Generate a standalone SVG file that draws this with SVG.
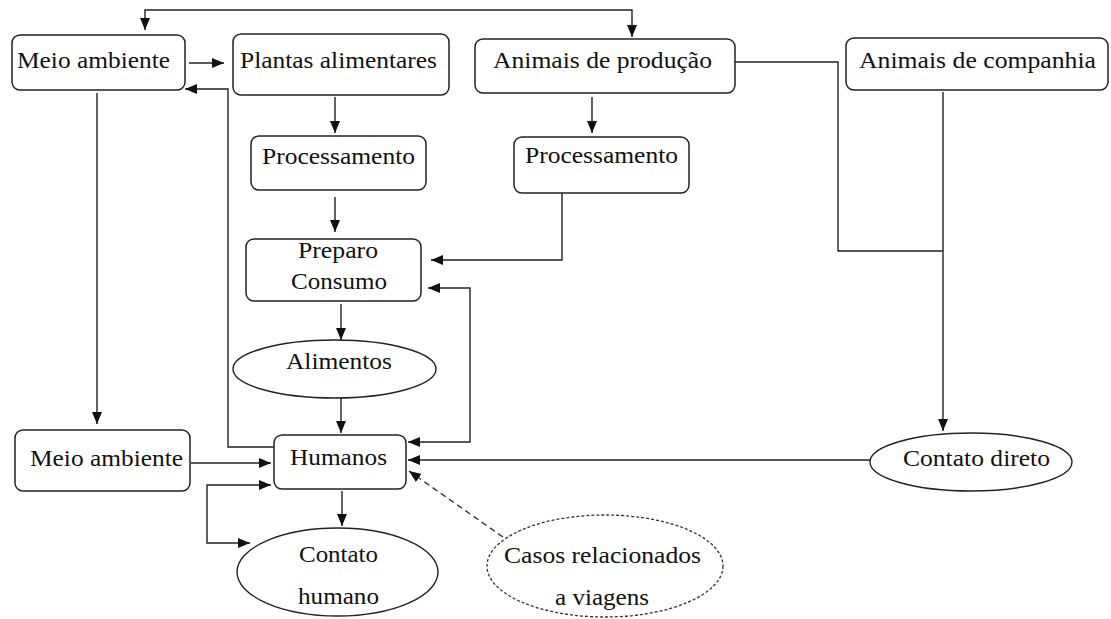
<svg xmlns="http://www.w3.org/2000/svg" width="1111" height="619" viewBox="0 0 1111 619">
<defs>
<style>
.box{fill:#fff;stroke:#222;stroke-width:1.5}
.ell{fill:#fff;stroke:#222;stroke-width:1.4}
.dash{fill:#fff;stroke:#333;stroke-width:1.3;stroke-dasharray:3 2}
.t{font-family:"Times New Roman",Tinos,"Liberation Serif","DejaVu Serif","Noto Serif",Times,serif;font-size:23px;fill:#111}
.c{fill:none;stroke:#222;stroke-width:1.4}
.cd{fill:none;stroke:#333;stroke-width:1.4;stroke-dasharray:6 4}
</style>
<marker id="ah" viewBox="0 0 12 10" refX="12" refY="5" markerWidth="12" markerHeight="10" markerUnits="userSpaceOnUse" orient="auto-start-reverse">
<path d="M0,0 L12,5 L0,10 Z" fill="#111"/>
</marker>
</defs>
<rect width="1111" height="619" fill="#fff"/>
<g id="connectors">
<path class="c" d="M145,30 V10 H632 V37" marker-start="url(#ah)" marker-end="url(#ah)"/>
<path class="c" d="M189,63 H224" marker-end="url(#ah)"/>
<path class="c" d="M274,447 H228 V89 H185" marker-end="url(#ah)"/>
<path class="c" d="M97,93 V424" marker-end="url(#ah)"/>
<path class="c" d="M335,97 V133" marker-end="url(#ah)"/>
<path class="c" d="M335,197 V232" marker-end="url(#ah)"/>
<path class="c" d="M592,97 V133" marker-end="url(#ah)"/>
<path class="c" d="M562,193 V260 H431" marker-end="url(#ah)"/>
<path class="c" d="M428,288 H470 V442 H408" marker-start="url(#ah)" marker-end="url(#ah)"/>
<path class="c" d="M341,304 V340" marker-end="url(#ah)"/>
<path class="c" d="M341,398 V433" marker-end="url(#ah)"/>
<path class="c" d="M191,463 H271" marker-end="url(#ah)"/>
<path class="c" d="M271,485 H207 V543 H250" marker-start="url(#ah)" marker-end="url(#ah)"/>
<path class="c" d="M342,491 V526" marker-end="url(#ah)"/>
<path class="c" d="M735,62 H838 V251 H943"/>
<path class="c" d="M943,92 V431" marker-end="url(#ah)"/>
<path class="c" d="M870,460 H408" marker-end="url(#ah)"/>
<path class="cd" d="M503,537 L409,471" marker-end="url(#ah)"/>
</g>
<g id="meio-ambiente-top">
<rect class="box" x="12" y="35" width="173" height="55" rx="8"/>
<text class="t" x="17" y="68" textLength="153" lengthAdjust="spacingAndGlyphs">Meio ambiente</text>
</g>
<g id="plantas-alimentares">
<rect class="box" x="233" y="34" width="216" height="61" rx="8"/>
<text class="t" x="240" y="68" textLength="197" lengthAdjust="spacingAndGlyphs">Plantas alimentares</text>
</g>
<g id="animais-producao">
<rect class="box" x="475" y="39" width="260" height="54" rx="8"/>
<text class="t" x="493" y="68" textLength="219" lengthAdjust="spacingAndGlyphs">Animais de produção</text>
</g>
<g id="animais-companhia">
<rect class="box" x="846" y="38" width="262" height="52" rx="8"/>
<text class="t" x="859" y="68" textLength="237" lengthAdjust="spacingAndGlyphs">Animais de companhia</text>
</g>
<g id="processamento-1">
<rect class="box" x="251" y="136" width="175" height="54" rx="8"/>
<text class="t" x="262" y="164" textLength="153" lengthAdjust="spacingAndGlyphs">Processamento</text>
</g>
<g id="processamento-2">
<rect class="box" x="514" y="137" width="175" height="56" rx="8"/>
<text class="t" x="525" y="163" textLength="153" lengthAdjust="spacingAndGlyphs">Processamento</text>
</g>
<g id="preparo-consumo">
<rect class="box" x="246" y="239" width="175" height="62" rx="8"/>
<text class="t" x="298" y="258" textLength="80" lengthAdjust="spacingAndGlyphs">Preparo</text>
<text class="t" x="291" y="289" textLength="96" lengthAdjust="spacingAndGlyphs">Consumo</text>
</g>
<g id="alimentos">
<ellipse class="ell" cx="334.5" cy="369" rx="101.5" ry="29"/>
<text class="t" x="286" y="369" textLength="106" lengthAdjust="spacingAndGlyphs">Alimentos</text>
</g>
<g id="humanos">
<rect class="box" x="274" y="435" width="132" height="54" rx="8"/>
<text class="t" x="290" y="465" textLength="97" lengthAdjust="spacingAndGlyphs">Humanos</text>
</g>
<g id="meio-ambiente-bottom">
<rect class="box" x="15" y="430" width="175" height="61" rx="8"/>
<text class="t" x="30" y="466" textLength="153" lengthAdjust="spacingAndGlyphs">Meio ambiente</text>
</g>
<g id="contato-humano">
<ellipse class="ell" cx="337.5" cy="572" rx="100.5" ry="44"/>
<text class="t" x="299" y="562" textLength="79" lengthAdjust="spacingAndGlyphs">Contato</text>
<text class="t" x="298" y="604" textLength="81" lengthAdjust="spacingAndGlyphs">humano</text>
</g>
<g id="contato-direto">
<ellipse class="ell" cx="971" cy="462" rx="101" ry="29"/>
<text class="t" x="903" y="466" textLength="147" lengthAdjust="spacingAndGlyphs">Contato direto</text>
</g>
<g id="casos-viagens">
<ellipse class="dash" cx="605" cy="566" rx="118" ry="51"/>
<text class="t" x="504" y="563" textLength="197" lengthAdjust="spacingAndGlyphs">Casos relacionados</text>
<text class="t" x="555" y="605" textLength="94" lengthAdjust="spacingAndGlyphs">a viagens</text>
</g>
</svg>
